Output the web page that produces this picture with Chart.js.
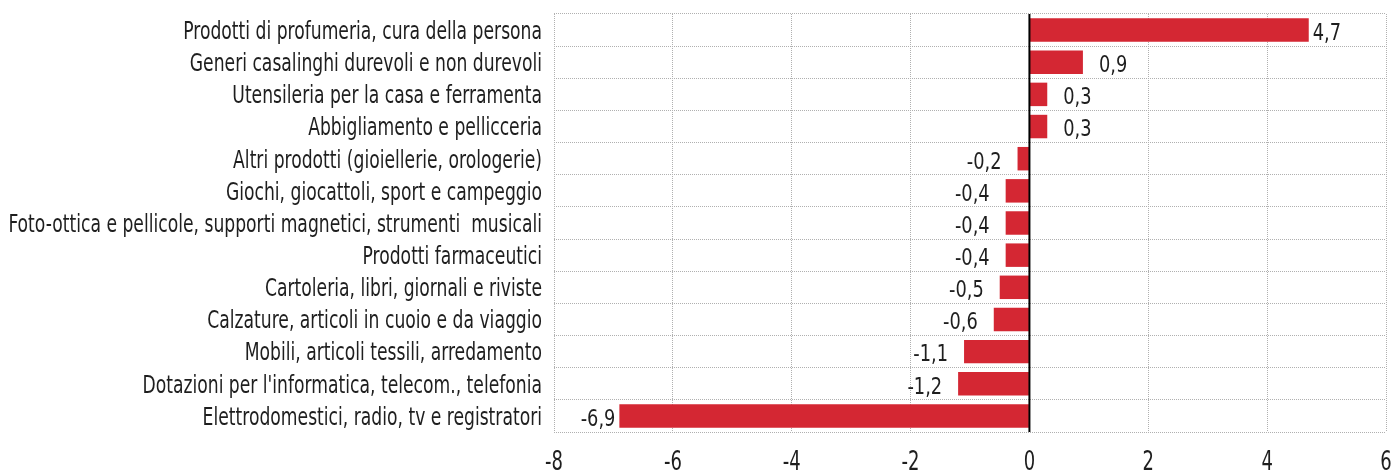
<!DOCTYPE html>
<html>
<head>
<meta charset="utf-8">
<script src="https://cdn.jsdelivr.net/npm/chart.js@4.4.1/dist/chart.umd.min.js"></script>
<style>
  html, body { margin: 0; padding: 0; background: #fff; }
  #wrap { width: 1394px; height: 470px; }
</style>
</head>
<body>
<div id="wrap"><canvas id="chart" width="1394" height="470"></canvas></div>
<script>
const categories = [
  "Prodotti di profumeria, cura della persona",
  "Generi casalinghi durevoli e non durevoli",
  "Utensileria per la casa e ferramenta",
  "Abbigliamento e pellicceria",
  "Altri prodotti (gioiellerie, orologerie)",
  "Giochi, giocattoli, sport e campeggio",
  "Foto-ottica e pellicole, supporti magnetici, strumenti  musicali",
  "Prodotti farmaceutici",
  "Cartoleria, libri, giornali e riviste",
  "Calzature, articoli in cuoio e da viaggio",
  "Mobili, articoli tessili, arredamento",
  "Dotazioni per l'informatica, telecom., telefonia",
  "Elettrodomestici, radio, tv e registratori"
];
const values = [4.7, 0.9, 0.3, 0.3, -0.2, -0.4, -0.4, -0.4, -0.5, -0.6, -1.1, -1.2, -6.9];
const xTicks = [-8, -6, -4, -2, 0, 2, 4, 6];

const FONT = "'DejaVu Sans Condensed', 'Liberation Sans Narrow', 'DejaVu Sans', sans-serif";
const CAP = 0.729; // cap/digit height of DejaVu, in em
const TEXT = '#1e1e1e';
const BAR = '#d42733';
const GRID = '#b0b0b0';

const fmt = v => v.toFixed(1).replace('.', ',');

// text drawn a bit taller than the font, like the original condensed face
function tallText(ctx, str, x, yMid, size, k, align) {
  ctx.save();
  ctx.translate(x, yMid + CAP * size * k / 2);
  ctx.scale(1, k);
  ctx.font = `${size}px ${FONT}`;
  ctx.textAlign = align;
  ctx.textBaseline = 'alphabetic';
  ctx.fillStyle = TEXT;
  ctx.fillText(str, 0, 0);
  ctx.restore();
}

const labelsPlugin = {
  id: 'labelsPlugin',
  afterDatasetsDraw(chart) {
    const { ctx, chartArea, scales } = chart;
    const meta = chart.getDatasetMeta(0);

    // zero line
    const x0 = scales.x.getPixelForValue(0);
    ctx.save();
    ctx.strokeStyle = '#000';
    ctx.lineWidth = 2;
    ctx.beginPath();
    ctx.moveTo(x0, chartArea.top);
    ctx.lineTo(x0, chartArea.bottom);
    ctx.stroke();
    ctx.restore();

    // category labels
    categories.forEach((c, i) => {
      tallText(ctx, c, chartArea.left - 12, scales.y.getPixelForValue(i), 19.1, 1.27, 'right');
    });

    // x tick labels
    xTicks.forEach(v => {
      tallText(ctx, String(v), scales.x.getPixelForValue(v), chartArea.bottom + 28, 20, 1.35, 'center');
    });

    // value labels
    meta.data.forEach((bar, i) => {
      const v = values[i];
      const gap = Math.abs(v) > 3 ? 4 : 16;
      const x = bar.x + (v >= 0 ? gap : -gap);
      tallText(ctx, fmt(v), x, bar.y + 1.5, 19.8, 1.16, v >= 0 ? 'left' : 'right');
    });
  }
};

new Chart(document.getElementById('chart'), {
  type: 'bar',
  data: {
    labels: categories,
    datasets: [{
      data: values,
      backgroundColor: BAR,
      borderWidth: 0,
      barPercentage: 0.73,
      categoryPercentage: 1
    }]
  },
  options: {
    indexAxis: 'y',
    responsive: false,
    animation: false,
    devicePixelRatio: 1,
    layout: { padding: { top: 14, right: 8, left: 0, bottom: 0 } },
    plugins: { legend: { display: false }, tooltip: { enabled: false } },
    scales: {
      x: {
        min: -8,
        max: 6,
        afterBuildTicks: s => { s.ticks = xTicks.map(v => ({ value: v })); },
        afterFit: s => { s.height = 38; s.paddingLeft = 0; s.paddingRight = 0; },
        grid: { color: GRID, lineWidth: 1, drawTicks: false },
        border: { display: false, dash: [1, 1] },
        ticks: { display: false }
      },
      y: {
        afterFit: s => { s.width = 554; s.paddingTop = 0; s.paddingBottom = 0; },
        grid: { color: GRID, lineWidth: 1, drawTicks: false, offset: true },
        border: { display: false, dash: [1, 1] },
        ticks: { display: false, autoSkip: false }
      }
    }
  },
  plugins: [labelsPlugin]
});
</script>
</body>
</html>
